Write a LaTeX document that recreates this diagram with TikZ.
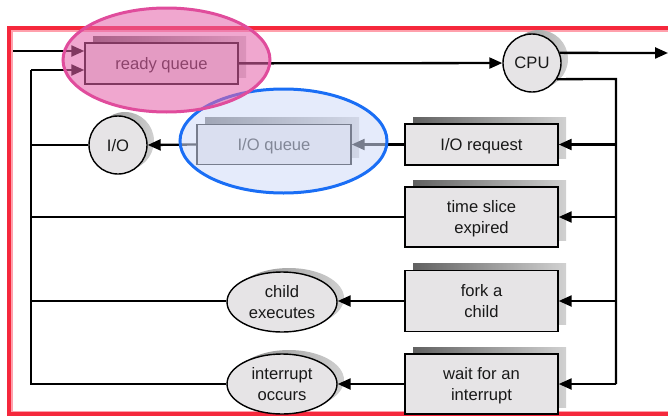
\documentclass[tikz,border=0pt]{standalone}
\usepackage{fontspec}
\setmainfont{Liberation Sans}
\usetikzlibrary{arrows.meta,shapes.geometric,shadows}

\definecolor{boxfill}{RGB}{230,228,230}
\definecolor{txt}{RGB}{25,25,25}
\definecolor{framered}{RGB}{245,40,60}
\definecolor{framepink}{RGB}{255,160,172}
\definecolor{hlpink}{RGB}{228,100,170}
\definecolor{hlpinkline}{RGB}{224,76,156}
\definecolor{hlblue}{RGB}{210,220,248}
\definecolor{hlblueline}{RGB}{26,110,245}

\tikzset{
  x=1pt, y=-1pt,
  every node/.style={font=\fontsize{16.6}{21}\selectfont, text=txt, align=center,
      inner sep=0pt, text depth=0pt},
  boxshadow/.style={general shadow={shadow xshift=8pt, shadow yshift=7pt,
      left color=black!62, right color=black!18, draw=none}},
  roundshadow/.style={general shadow={shadow xshift=7pt, shadow yshift=4pt,
      left color=black!45, right color=black!18, draw=none}},
  qbox/.style={rectangle, draw=black, line width=1.4pt, fill=boxfill,
      minimum width=153pt, boxshadow},
  dev/.style={circle, draw=black, line width=1.4pt, fill=boxfill,
      minimum size=58pt, roundshadow},
  event/.style={ellipse, draw=black, line width=1.4pt, fill=boxfill,
      minimum width=110pt, minimum height=60pt, roundshadow},
  wire/.style={draw=black, line width=2.3pt},
  flow/.style={wire, -{Triangle[length=13pt,width=11pt]}},
  highlight/.style={line width=3pt, fill opacity=0.57},
}

\begin{document}
\begin{tikzpicture}
\clip (0,0) rectangle (668,415);

% outer frame
\draw[framered, line width=3.2pt] (9,28) rectangle (720,414);
\draw[framepink, line width=1.4pt] (12,31) rectangle (720,411.5);

% queues, devices and events
\node[qbox, minimum height=41pt] (rq)    at (161.5,63.5) {ready queue};
\node[dev]                       (cpu)   at (532,63)     {CPU};
\node[qbox, minimum height=41pt] (ioreq) at (481.5,144.5) {I/O request};
\node[qbox, minimum height=40pt, minimum width=154pt] (ioq) at (274,144.5) {I/O queue};
\node[dev]                       (io)    at (118,145)    {I/O};
\node[qbox, minimum height=60pt] (ts)    at (481.5,217)  {time slice\\expired};
\node[qbox, minimum height=61pt] (fork)  at (481.5,301)  {fork a\\child};
\node[event]                     (child) at (282,302)    {child\\executes};
\node[qbox, minimum height=60pt] (wait)  at (481.5,384)  {wait for an\\interrupt};
\node[event]                     (intr)  at (282,384)    {interrupt\\occurs};

% bus corners and free ends
\coordinate (entry) at (13,51);
\coordinate (lb)    at (31,70);
\coordinate (rb)    at (616,79);
\coordinate (exit)  at (668,53);

% admission and dispatch
\draw[flow] (entry) -- (entry -| rq.west);
\draw[flow] (rq) -- (cpu);
\draw[flow] (cpu.20) -- (exit);

% CPU to the waiting reasons
\draw[wire] (cpu.-33) -- (rb) -- (rb |- wait.east);
\draw[flow] (rb |- ioreq.east) -- (ioreq.east);
\draw[flow] (rb |- ts.east) -- (ts.east);
\draw[flow] (rb |- fork.east) -- (fork.east);
\draw[flow] (rb |- wait.east) -- (wait.east);

% event paths
\draw[flow] (ioreq.west) -- (ioq.east);
\draw[flow] (ioq.west) -- (io.east);
\draw[flow] (fork.west) -- (fork.west -| child.east);
\draw[flow] (wait.west) -- (intr.east);

% return bus to the ready queue
\draw[wire] (intr.west) -- (intr.west -| lb) -- (lb);
\draw[flow] (lb) -- (lb -| rq.west);
\draw[wire] (io.west) -- (io.west -| lb);
\draw[wire] (ts.west) -- (ts.west -| lb);
\draw[wire] (fork.west -| child.west) -- (fork.west -| lb);

% highlight marks
\draw[highlight, draw=hlblueline, fill=hlblue] (283.5,141) ellipse [x radius=103.5, y radius=52];
\draw[highlight, draw=hlpinkline, fill=hlpink] (166.5,60) ellipse [x radius=103.5, y radius=52];
\end{tikzpicture}
\end{document}
